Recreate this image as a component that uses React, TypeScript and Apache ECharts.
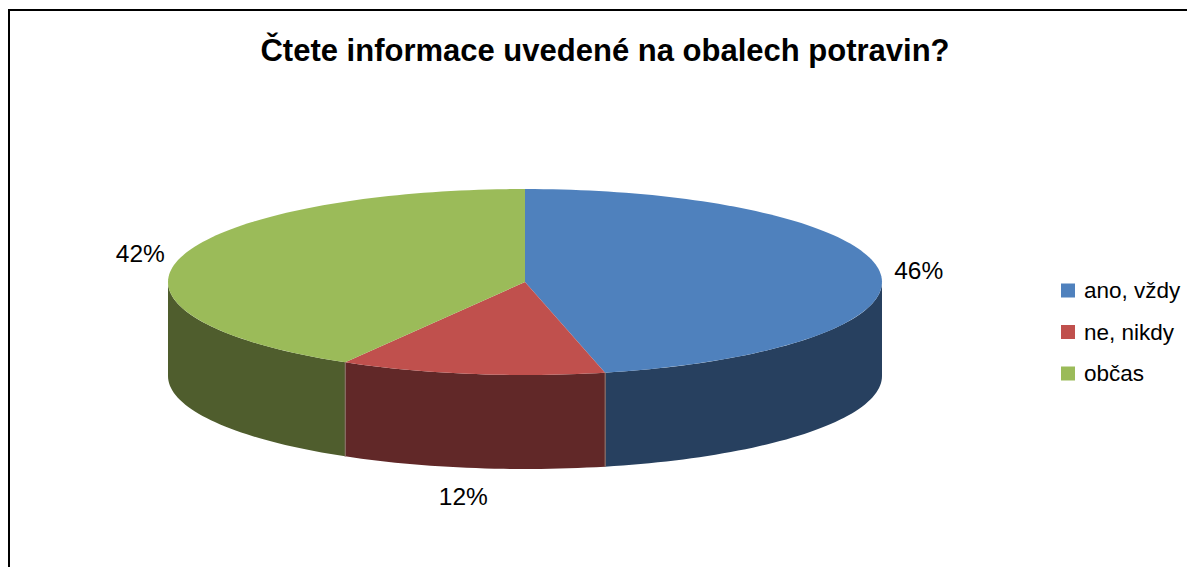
import React, { useEffect, useRef } from "react";
import * as echarts from "echarts";

const titleText = "Čtete informace uvedené na obalech potravin?";
const categories = ["ano, vždy", "ne, nikdy", "občas"];
const values = [46.4, 12, 41.6];
const labelTexts = ["46%", "12%", "42%"];
const topColors = ["#4F81BD", "#C0504D", "#9BBB59"];
const sideColors = ["#27405F", "#612828", "#4F5D2D"];
const labelOffsets = [[39, -1], [-8, 123], [-40, -4]];

const CX = 525, CY = 282, RX = 357, RY = 93, DEPTH = 94;
const total = values.reduce((a, b) => a + b, 0);
const pt = (deg: number, dy = 0): number[] => {
  const r = (deg * Math.PI) / 180;
  return [CX + RX * Math.sin(r), CY - RY * Math.cos(r) + dy];
};
const arc = (from: number, to: number, dy = 0): number[][] => {
  const out: number[][] = [];
  const steps = Math.max(2, Math.ceil((to - from) / 1.5));
  for (let i = 0; i <= steps; i++) out.push(pt(from + ((to - from) * i) / steps, dy));
  return out;
};

const makeRender = (index: number) => (_params: any, api: any) => {
  const before = values.slice(0, index).reduce((a, b) => a + b, 0);
  const start = (before / total) * 360;
  const end = start + (api.value(0) / total) * 360;
  const children: any[] = [];
  const sFrom = Math.max(start, 90);
  const sTo = Math.min(end, 270);
  if (sTo > sFrom) {
    children.push({
      type: "polygon",
      shape: { points: [...arc(sFrom, sTo), ...arc(sFrom, sTo, DEPTH).reverse()] },
      style: { fill: sideColors[index] },
    });
    [start, end].forEach((a) => {
      if (a > 90 && a < 270) {
        const p = pt(a);
        children.push({
          type: "line",
          shape: { x1: p[0], y1: p[1], x2: p[0], y2: p[1] + DEPTH },
          style: { stroke: "#8C6F68", lineWidth: 1 },
        });
      }
    });
  }
  children.push({
    type: "polygon",
    shape: { points: [[CX, CY], ...arc(start, end)] },
    style: { fill: topColors[index] },
  });
  const m = pt((start + end) / 2);
  children.push({
    type: "text",
    style: {
      x: m[0] + labelOffsets[index][0],
      y: m[1] + labelOffsets[index][1],
      text: labelTexts[index],
      fill: "#000",
      font: '24.5px "Liberation Sans", Arial, sans-serif',
      align: "center",
      verticalAlign: "middle",
    },
  });
  return { type: "group", children };
};

export default function App() {
  const ref = useRef<HTMLDivElement>(null);
  useEffect(() => {
    const chart = echarts.init(ref.current!, null, { renderer: "svg" });
    chart.setOption({
      animation: false,
      backgroundColor: "#fff",
      title: {
        text: titleText,
        left: 600,
        top: 45,
        textAlign: "center",
        textVerticalAlign: "middle",
        textStyle: { fontFamily: "Liberation Sans", fontWeight: "bold", fontSize: 31, color: "#000" },
      },
      legend: {
        left: 1056,
        top: 274,
        orient: "vertical",
        icon: "rect",
        itemWidth: 14,
        itemHeight: 14,
        itemGap: 18.5,
        data: categories,
        selectedMode: false,
        textStyle: { fontFamily: "Liberation Sans", fontSize: 22.5, color: "#000", padding: [0, 0, 0, 4] },
      },
      graphic: [
        {
          type: "polyline",
          shape: { points: [[9, 567], [9, 10], [1187, 10]] },
          style: { stroke: "#000", lineWidth: 2, fill: "none" },
        },
      ],
      series: categories.map((name, i) => ({
        type: "custom",
        name,
        coordinateSystem: "none",
        silent: true,
        itemStyle: { color: topColors[i] },
        data: [[values[i]]],
        renderItem: makeRender(i),
      })),
    });
    return () => chart.dispose();
  }, []);
  return <div ref={ref} style={{ position: "fixed", left: 0, top: 0, width: 1187, height: 567 }} />;
}
